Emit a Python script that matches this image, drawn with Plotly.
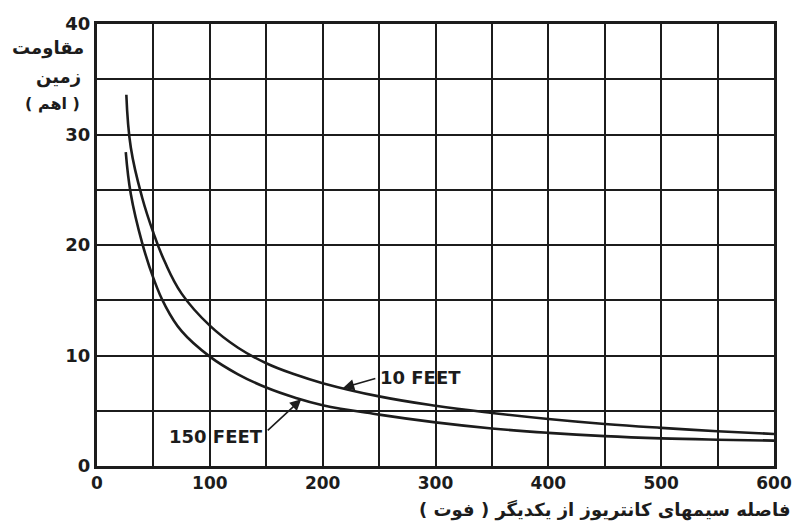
import numpy as np
import plotly.graph_objects as go

# Ground resistance (ohm) vs. spacing between counterpoise wires (ft)
spacing_10ft = [26, 30, 40, 50, 60, 75, 100, 125, 150, 175, 200, 250, 300, 350, 400, 450, 500, 550, 600]
resist_10ft = [33.6, 28.8, 24.3, 21.1, 18.5, 15.6, 12.7, 10.7, 9.3, 8.3, 7.5, 6.3, 5.45, 4.8, 4.25, 3.8, 3.45, 3.15, 2.9]

spacing_150ft = [25.5, 30, 40, 50, 60, 75, 100, 125, 150, 175, 200, 250, 300, 350, 400, 450, 500, 550, 600]
resist_150ft = [28.4, 24.6, 20.2, 17.0, 14.6, 12.2, 9.9, 8.3, 7.1, 6.2, 5.5, 4.65, 3.95, 3.4, 3.0, 2.7, 2.5, 2.38, 2.3]

x_ticks = [0, 100, 200, 300, 400, 500, 600]
y_ticks = [0, 10, 20, 30, 40]

ink = "#1c1c1c"
font_main = "DejaVu Sans"

fig = go.Figure()
for xs, ys in [(spacing_10ft, resist_10ft), (spacing_150ft, resist_150ft)]:
    fig.add_trace(go.Scatter(
        x=xs, y=ys, mode="lines",
        line=dict(color=ink, width=2.6, shape="spline", smoothing=1.2),
        showlegend=False, hoverinfo="skip",
    ))

# curve labels with pointer arrows
tip10_x = 218
tip10_y = float(np.interp(tip10_x, spacing_10ft, resist_10ft))
tip150_x = 181
tip150_y = float(np.interp(tip150_x, spacing_150ft, resist_150ft))

annotations = [
    dict(x=tip10_x, y=tip10_y, ax=248, ay=7.95, xref="x", yref="y", axref="x", ayref="y",
         text="", showarrow=True, arrowhead=2, arrowsize=1.4, arrowwidth=1.6, arrowcolor=ink),
    dict(x=249, y=8.0, xref="x", yref="y", text="10 FEET", showarrow=False, xanchor="left",
         font=dict(family=font_main, size=18, color=ink, weight="bold")),
    dict(x=tip150_x, y=tip150_y, ax=150, ay=3.1, xref="x", yref="y", axref="x", ayref="y",
         text="", showarrow=True, arrowhead=2, arrowsize=1.4, arrowwidth=1.6, arrowcolor=ink),
    dict(x=149, y=2.65, xref="x", yref="y", text="150 FEET", showarrow=False, xanchor="right",
         font=dict(family=font_main, size=18, color=ink, weight="bold")),
    # y axis title (three lines, right-aligned left of the axis)
    dict(x=-0.016, y=0.945, xref="paper", yref="paper", text="مقاومت", showarrow=False,
         xanchor="right", yanchor="middle",
         font=dict(family=font_main, size=18, color=ink, weight="bold")),
    dict(x=-0.02, y=0.879, xref="paper", yref="paper", text="زمین", showarrow=False,
         xanchor="right", yanchor="middle",
         font=dict(family=font_main, size=18, color=ink, weight="bold")),
    dict(x=-0.022, y=0.82, xref="paper", yref="paper", text="( اهم )", showarrow=False,
         xanchor="right", yanchor="middle",
         font=dict(family=font_main, size=16, color=ink, weight="bold")),
    # x axis title
    dict(x=1.026, y=-0.1, xref="paper", yref="paper",
         text="فاصله سیمهای کانتریوز از یکدیگر ( فوت )", showarrow=False,
         xanchor="right", yanchor="middle",
         font=dict(family=font_main, size=18, color=ink, weight="bold")),
]

fig.update_layout(
    width=797, height=524,
    margin=dict(l=97, r=23, t=24, b=58),
    paper_bgcolor="white", plot_bgcolor="white",
    annotations=annotations,
    showlegend=False,
)
fig.update_xaxes(
    range=[0, 600], tickvals=x_ticks, ticktext=[str(v) for v in x_ticks],
    showgrid=True, gridcolor=ink, gridwidth=1.6,
    minor=dict(dtick=50, showgrid=True, gridcolor=ink, gridwidth=1.6),
    showline=True, linecolor=ink, linewidth=3, mirror=True,
    ticks="", zeroline=False, automargin=False,
    tickfont=dict(family=font_main, size=17, color=ink, weight="bold"),
)
fig.update_yaxes(
    range=[0, 40], tickvals=y_ticks, ticktext=[str(v) for v in y_ticks],
    showgrid=True, gridcolor=ink, gridwidth=1.6,
    minor=dict(dtick=5, showgrid=True, gridcolor=ink, gridwidth=1.6),
    showline=True, linecolor=ink, linewidth=3, mirror=True,
    ticks="", zeroline=False, automargin=False,
    tickfont=dict(family=font_main, size=18, color=ink, weight="bold"),
)

fig.write_html("out.html")
